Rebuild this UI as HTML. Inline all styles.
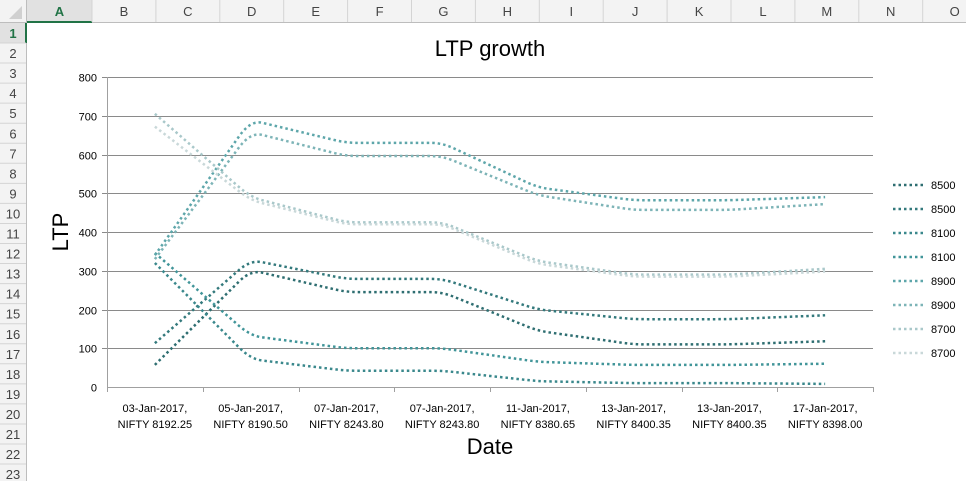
<!DOCTYPE html>
<html><head><meta charset="utf-8"><style>
html,body{margin:0;padding:0;width:966px;height:481px;overflow:hidden;background:#fff;font-family:"Liberation Sans",sans-serif}
</style></head><body>
<svg id="s" width="966" height="481" xmlns="http://www.w3.org/2000/svg"></svg>
<script>
const categories1=["03-Jan-2017,","05-Jan-2017,","07-Jan-2017,","07-Jan-2017,","11-Jan-2017,","13-Jan-2017,","13-Jan-2017,","17-Jan-2017,"];
const categories2=["NIFTY 8192.25","NIFTY 8190.50","NIFTY 8243.80","NIFTY 8243.80","NIFTY 8380.65","NIFTY 8400.35","NIFTY 8400.35","NIFTY 8398.00"];
const seriesNames=["8500","8500","8100","8100","8900","8900","8700","8700"];
const s8500a=[57,302,245,245,145,110,110,118];
const s8500b=[113,328,279,279,200,175,175,185];
const s8100a=[320,72,42,42,15,10,10,8];
const s8100b=[346,132,100,100,65,57,57,60];
const s8900a=[340,689,630,630,515,482,482,490];
const s8900b=[330,658,596,596,495,457,457,472];
const s8700a=[705,490,425,425,325,290,290,305];
const s8700b=[672,482,420,420,318,285,285,298];
const yTicks=[0,100,200,300,400,500,600,700,800];
const colLetters=["A","B","C","D","E","F","G","H","I","J","K","L","M","N","O"];
const series=[s8500a,s8500b,s8100a,s8100b,s8900a,s8900b,s8700a,s8700b];
const colors=["#2e6e71","#33797c","#3a888c","#419599","#5da6aa","#7db4b7","#a9c8ca","#c9d8d9"];
const NS="http://www.w3.org/2000/svg";
const svg=document.getElementById('s');
function el(t,a,txt){const e=document.createElementNS(NS,t);for(const k in a)e.setAttribute(k,a[k]);if(txt!==undefined)e.textContent=txt;svg.appendChild(e);return e;}
let e=el('rect',{x:0,y:0,width:966,height:23,fill:'#f3f3f3'});

e=el('rect',{x:0,y:0,width:27,height:481,fill:'#f3f3f3'});

el('line',{x1:0,y1:22.5,x2:966,y2:22.5,stroke:'#bdbdbd'});
el('line',{x1:26.5,y1:0,x2:26.5,y2:481,stroke:'#bdbdbd'});
el('rect',{x:27,y:0,width:65,height:23,fill:'#e1e1e1'});
el('rect',{x:0,y:23,width:27,height:20,fill:'#e1e1e1'});
el('line',{x1:27,y1:22,x2:92,y2:22,stroke:'#217346','stroke-width':2});
el('line',{x1:26,y1:23,x2:26,y2:43,stroke:'#217346','stroke-width':2});
el('polygon',{points:'22,6 22,19 9,19',fill:'#d0d0d0'});
colLetters.forEach((c,i)=>{const x0=i==0?27:92+(i-1)*63.9;const w=i==0?65:63.9;
 el('line',{x1:x0+w,y1:0,x2:x0+w,y2:22,stroke:'#d4d4d4'});
 const t=el('text',{x:x0+w/2,y:16,'text-anchor':'middle','font-size':13,fill:i==0?'#217346':'#444','font-weight':i==0?'bold':'normal'},c);
 });
for(let r=1;r<=23;r++){const y0=23+(r-1)*20.05;
 el('line',{x1:0,y1:y0+20,x2:26,y2:y0+20,stroke:'#d4d4d4'});
 const t=el('text',{x:13,y:y0+15,'text-anchor':'middle','font-size':13,fill:r==1?'#217346':'#444','font-weight':r==1?'bold':'normal'},String(r));
 }
const X0=107,X1=873,Y0=387,Y1=77;
const band=(X1-X0)/categories1.length;
const xs=i=>X0+band*(i+0.5);
const ys=v=>Y0-(v-0)/(800-0)*(Y0-Y1);
let t=el('text',{x:490,y:56,'text-anchor':'middle','font-size':22,fill:'#000'},'LTP growth');

yTicks.forEach(v=>{const y=Math.round(ys(v))+0.5;
 const g=el('line',{x1:v==0?X0:X0-5,y1:y,x2:X1,y2:y,stroke:v==0?'#a0a0a0':'#8a8a8a'});
 
 const l=el('text',{x:X0-10,y:y+4,'text-anchor':'end','font-size':11,fill:'#000'},String(v));
 });
el('line',{x1:X0+0.5,y1:Y1,x2:X0+0.5,y2:Y0,stroke:'#a0a0a0'});
for(let i=0;i<=categories1.length;i++){const x=Math.round(X0+band*i)+0.5;el('line',{x1:x,y1:Y0,x2:x,y2:Y0+5,stroke:'#a0a0a0'});}
categories1.forEach((c,i)=>{
 const a=el('text',{x:xs(i),y:412,'text-anchor':'middle','font-size':11,fill:'#000'},c);
 
 const b=el('text',{x:xs(i),y:428,'text-anchor':'middle','font-size':11,fill:'#000'},categories2[i]);
 });
t=el('text',{x:490,y:454,'text-anchor':'middle','font-size':22,fill:'#000'},'Date');

t=el('text',{x:68,y:232,'text-anchor':'middle','font-size':22,fill:'#000',transform:'rotate(-90 68 232)'},'LTP');

function rounded(pts){const n=pts.length,f=0.12;let d='M'+pts[0][0]+','+pts[0][1];
 for(let i=1;i<n-1;i++){const p=pts[i],a=pts[i-1],b=pts[i+1];
  const s=[p[0]+(a[0]-p[0])*f,p[1]+(a[1]-p[1])*f],e2=[p[0]+(b[0]-p[0])*f,p[1]+(b[1]-p[1])*f];
  d+=' L'+s+' Q'+p+' '+e2;}
 d+=' L'+pts[n-1][0]+','+pts[n-1][1];return d;}
series.forEach((sv,k)=>{const pts=sv.map((v,i)=>[xs(i),ys(v)]);
 const p=el('path',{d:rounded(pts),fill:'none',stroke:colors[k],'stroke-width':2.5,'stroke-dasharray':'2.5 3'});
 
 const ly=185+k*24;
 const ll=el('line',{x1:893,y1:ly,x2:925,y2:ly,stroke:colors[k],'stroke-width':2.5,'stroke-dasharray':'2.5 3'});
 
 const lt=el('text',{x:931,y:ly+4,'font-size':11,fill:'#000'},seriesNames[k]);
 });
</script>
</body></html>
